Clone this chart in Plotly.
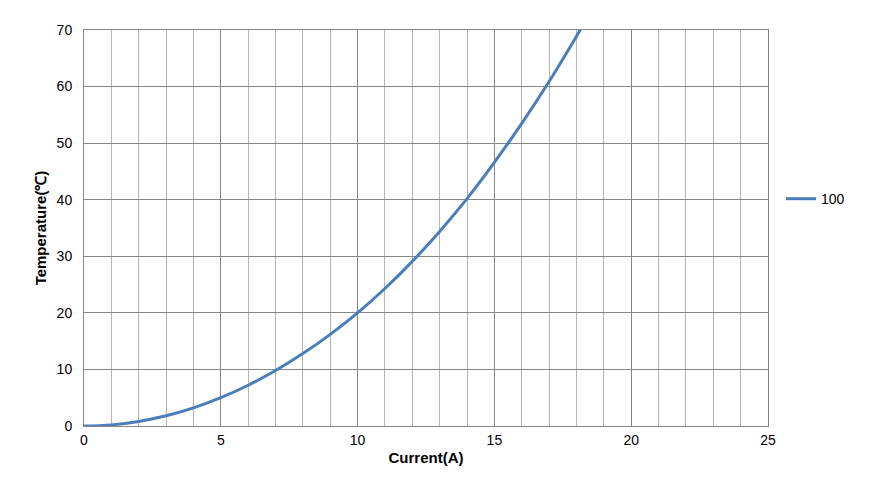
import plotly.graph_objects as go

current = [0, 1, 2, 3, 4, 5, 6, 7, 8, 9, 10, 11, 12, 13, 14, 15, 16, 17, 18, 19]
temperature = [0, 0.2, 0.8, 1.8, 3.2, 5.0, 7.2, 9.8, 12.8, 16.2, 20.0, 24.3, 29.1, 34.4, 40.2, 46.6, 53.5, 60.9, 68.9, 77.4]
series_name = "100"

fig = go.Figure()
fig.add_trace(go.Scatter(
    x=current, y=temperature, mode="lines", name=series_name,
    line=dict(color="#4A7EBB", width=3, shape="spline", smoothing=1.0),
))

font = "Liberation Sans, Arial, sans-serif"
fig.update_layout(
    width=873, height=486,
    margin=dict(l=76, r=113, t=22, b=68),
    paper_bgcolor="white", plot_bgcolor="white",
    font=dict(family=font, size=14, color="#000"),
    showlegend=True,
    legend=dict(x=1.019, y=0.573, xanchor="left", yanchor="middle",
                font=dict(size=14), itemwidth=30, bgcolor="rgba(0,0,0,0)"),
    xaxis=dict(
        range=[0, 25], tick0=0, dtick=5, showgrid=True, gridcolor="#868686", gridwidth=1,
        minor=dict(dtick=1, showgrid=True, gridcolor="#B4B4B4", gridwidth=1, ticks=""),
        showline=True, linecolor="#868686", linewidth=1, mirror=True,
        zeroline=False, ticks="", ticklabelstandoff=1,
        title=dict(text="<b>Current(A)</b>", font=dict(size=15), standoff=5),
        tickfont=dict(size=14),
    ),
    yaxis=dict(
        range=[0, 70], tick0=0, dtick=10, showgrid=True, gridcolor="#868686", gridwidth=1,
        showline=True, linecolor="#868686", linewidth=1, mirror=True,
        zeroline=False, ticks="", ticklabelstandoff=8,
        title=dict(text="<b>Temperature(℃)</b>", font=dict(size=15), standoff=6),
        tickfont=dict(size=14),
    ),
)

fig.write_html("out.html")
